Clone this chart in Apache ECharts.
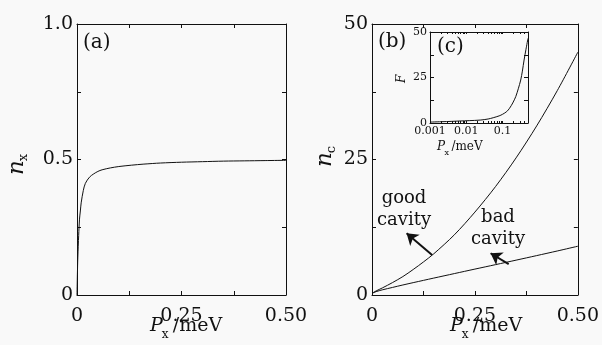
<!DOCTYPE html>
<html><head><meta charset="utf-8">
<script src="https://cdn.jsdelivr.net/npm/echarts@6/dist/echarts.min.js"></script>
<style>html,body{margin:0;padding:0;background:#f9f9f9;}#c{width:602px;height:345px;}</style>
</head><body><div id="c"></div>
<script>
// ---- data ----
const pumpA = [0, 0.001, 0.002, 0.004, 0.006, 0.008, 0.01, 0.015, 0.02, 0.03, 0.04, 0.05, 0.06, 0.08, 0.1, 0.13, 0.16, 0.2, 0.25, 0.3, 0.35, 0.4, 0.45, 0.5];
const nX    = [0, 0.08, 0.14, 0.22, 0.28, 0.31, 0.34, 0.385, 0.412, 0.435, 0.447, 0.456, 0.462, 0.469, 0.474, 0.479, 0.483, 0.487, 0.490, 0.492, 0.494, 0.495, 0.496, 0.497];

const pumpB = [0, 0.01, 0.025, 0.05, 0.075, 0.1, 0.125, 0.15, 0.2, 0.25, 0.3, 0.35, 0.4, 0.45, 0.5];
const nGood = [0.3, 0.75, 1.3, 2.3, 3.4, 4.7, 6.1, 7.6, 11.1, 15.3, 20.0, 25.3, 31.2, 37.7, 44.8];
const nBad  = [0.3, 0.62, 0.95, 1.4, 1.85, 2.28, 2.7, 3.12, 3.95, 4.78, 5.6, 6.43, 7.27, 8.12, 9.0];

const pumpC = [0.001, 0.002, 0.004, 0.0067, 0.012, 0.024, 0.04, 0.055, 0.08, 0.1, 0.13, 0.155, 0.19, 0.23, 0.27, 0.315, 0.35, 0.39, 0.44, 0.5];
const fC    = [0.5, 0.7, 0.9, 1.1, 1.3, 1.6, 2.2, 2.9, 3.9, 4.8, 6.3, 8.1, 11.0, 14.5, 18.8, 23.6, 28.5, 34.6, 40.5, 46.5];

const xTickLabels  = ['0', '0.25', '0.50'];
const yTickLabelsA = ['0', '0.5', '1.0'];
const yTickLabelsB = ['0', '25', '50'];
const yTickLabelsC = ['0', '25', '50'];
const xTickLabelsC = ['0.001', '0.01', '0.1'];
const xTickValuesC = [0.001, 0.01, 0.1];

// annotation arrows: [tail, head] in data coordinates
const arrowGood = [[0.146, 7.4], [0.084, 11.4]];
const arrowBad  = [[0.332, 5.7], [0.288, 7.7]];

// ---- chart ----
const INK = '#111';
const FONT = 'DejaVu Serif';
const line = {color: INK, width: 1};

function pick(labels, values) {
  return v => { const i = values.findIndex(t => Math.abs(t - v) < 1e-9); return i >= 0 ? labels[i] : ''; };
}

function valAxis(grid, min, max, interval, labels, pos, showLabel, fs, margin) {
  const vals = labels ? labels.map((_, i) => min + i * interval) : [];
  return {
    type: 'value', gridIndex: grid, position: pos, min: min, max: max, interval: interval,
    axisLine: {show: true, onZero: false, lineStyle: line},
    axisTick: {show: true, inside: true, length: 4, lineStyle: line},
    minorTick: {show: true, splitNumber: 2, length: 4, lineStyle: line},
    splitLine: {show: false}, minorSplitLine: {show: false},
    axisLabel: {show: showLabel, color: INK, fontFamily: FONT, fontSize: fs, margin: margin,
      formatter: labels ? pick(labels, vals) : ''}
  };
}

const minorLog = [];
[0.001, 0.01, 0.1].forEach(d => { for (let k = 1; k <= 9; k++) { const v = d * k; if (v <= 0.5 + 1e-12) minorLog.push(+v.toPrecision(3)); } });

function logAxis(pos, showLabel) {
  return {
    type: 'log', logBase: 10, gridIndex: 2, position: pos, min: 0.001, max: 0.5,
    axisLine: {show: true, onZero: false, lineStyle: line},
    axisTick: {show: true, inside: true, length: 2, lineStyle: line, customValues: minorLog},
    splitLine: {show: false},
    axisLabel: {show: showLabel, color: INK, fontFamily: FONT, fontSize: 11, margin: 3,
      customValues: xTickValuesC, formatter: pick(xTickLabelsC, xTickValuesC)}
  };
}

const txt = (x, y, text, size, extra) => Object.assign({
  type: 'text', x: x, y: y, silent: true,
  style: Object.assign({text: text, fill: INK, font: size + 'px "' + FONT + '"', textAlign: 'left', textVerticalAlign: 'top'}, extra || {})
});
const ital = (x, y, text, size, extra) => txt(x, y, text, size, Object.assign({font: 'italic ' + size + 'px "' + FONT + '"'}, extra || {}));

function xName(x, y, size, subSize) {
  return {type: 'group', x: x, y: y, children: [
    ital(0, 0, 'P', size),
    txt(size * 0.62, size * 0.62, 'x', subSize),
    txt(size * 1.2, 0, '/meV', size)
  ]};
}
function yName(x, y, letter, size, subSize) {
  return {type: 'group', x: x, y: y, rotation: Math.PI / 2, children: [
    ital(0, 0, 'n', size, {textVerticalAlign: 'middle'}),
    txt(size * 0.6, size * 0.3, letter, subSize, {textVerticalAlign: 'middle'})
  ]};
}

const arrowMark = (a) => ({silent: true, symbol: ['none', 'arrow'], symbolSize: 11, label: {show: false},
  lineStyle: {type: 'solid', color: INK, width: 2}, itemStyle: {color: INK},
  emphasis: {disabled: true},
  data: [[{coord: a[0]}, {coord: a[1]}]]});

const chart = echarts.init(document.getElementById('c'), null, {renderer: 'canvas'});
chart.setOption({
  animation: false,
  backgroundColor: '#f9f9f9',
  grid: [
    {left: 77, top: 24, width: 209, height: 271},
    {left: 372, top: 24, width: 211, height: 271},
    {left: 430, top: 32, width: 98, height: 91}
  ],
  xAxis: [
    valAxis(0, 0, 0.5, 0.25, xTickLabels, 'bottom', true, 19, 12),
    valAxis(0, 0, 0.5, 0.25, null, 'top', false, 19, 12),
    valAxis(1, 0, 0.5, 0.25, xTickLabels, 'bottom', true, 19, 12),
    valAxis(1, 0, 0.5, 0.25, null, 'top', false, 19, 12),
    logAxis('bottom', true),
    logAxis('top', false)
  ],
  yAxis: [
    valAxis(0, 0, 1, 0.5, yTickLabelsA, 'left', true, 19, 4),
    valAxis(0, 0, 1, 0.5, null, 'right', false, 19, 4),
    valAxis(1, 0, 50, 25, yTickLabelsB, 'left', true, 19, 4),
    valAxis(1, 0, 50, 25, null, 'right', false, 19, 4),
    valAxis(2, 0, 50, 25, yTickLabelsC, 'left', true, 11, 3),
    valAxis(2, 0, 50, 25, null, 'right', false, 11, 3)
  ],
  series: [
    {type: 'line', xAxisIndex: 0, yAxisIndex: 0, showSymbol: false, smooth: 0.3, lineStyle: line,
      data: pumpA.map((p, i) => [p, nX[i]])},
    {type: 'line', xAxisIndex: 2, yAxisIndex: 2, showSymbol: false, smooth: 0.3, lineStyle: line,
      data: pumpB.map((p, i) => [p, nGood[i]]), markLine: arrowMark(arrowGood)},
    {type: 'line', xAxisIndex: 2, yAxisIndex: 2, showSymbol: false, smooth: 0.3, lineStyle: line,
      data: pumpB.map((p, i) => [p, nBad[i]]), markLine: arrowMark(arrowBad)},
    {type: 'line', xAxisIndex: 4, yAxisIndex: 4, showSymbol: false, smooth: 0.3, lineStyle: line,
      data: pumpC.map((p, i) => [p, fC[i]])}
  ],
  graphic: [
    txt(83, 33, '(a)', 20),
    txt(378, 32, '(b)', 20),
    txt(437, 37, '(c)', 20),
    txt(404, 189, 'good', 18, {textAlign: 'center'}),
    txt(404, 211, 'cavity', 18, {textAlign: 'center'}),
    txt(498, 208, 'bad', 18, {textAlign: 'center'}),
    txt(498, 230, 'cavity', 18, {textAlign: 'center'}),
    xName(150, 317, 19, 12),
    xName(450, 317, 19, 12),
    xName(437, 141, 12, 8),
    yName(17, 175, 'x', 23, 13),
    yName(325, 167, 'c', 23, 13),
    {type: 'group', x: 402, y: 83, rotation: Math.PI / 2, children: [ital(0, 0, 'F', 12, {textVerticalAlign: 'middle'})]}
  ]
});
</script></body></html>
